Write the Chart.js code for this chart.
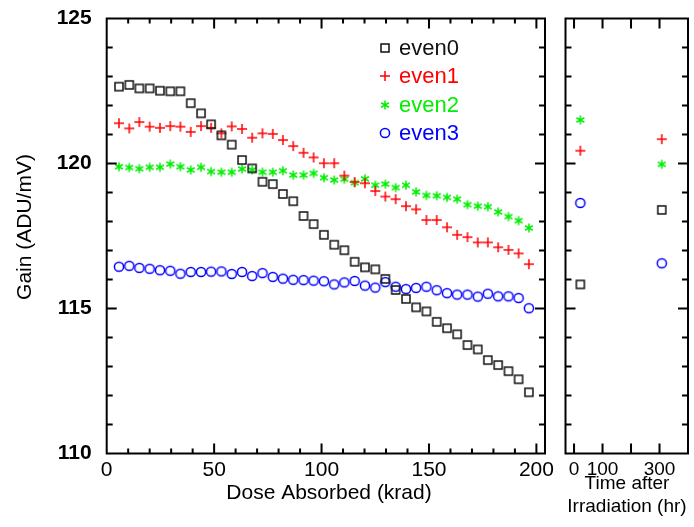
<!DOCTYPE html>
<html>
<head>
<meta charset="utf-8">
<title>Gain vs dose</title>
<script src="https://cdn.jsdelivr.net/npm/chart.js@4.4.0/dist/chart.umd.min.js"></script>
<style>
    html, body { margin: 0; padding: 0; background: #fff; }
    #wrap { position: relative; width: 694px; height: 527px; overflow: hidden; font-family: "Liberation Sans", Arial, sans-serif; }
    #doseChart { position: absolute; left: 0; top: 0; }
    #timeChart { position: absolute; left: 555px; top: 0; }
    #legend { position: absolute; left: 377px; top: 34px; }
    .legend-row { display: flex; align-items: center; height: 28.3px; font-size: 22px; line-height: 28.3px; }
    .legend-row canvas { margin-right: 6px; }
</style>
</head>
<body>
<div id="wrap">
    <canvas id="doseChart" width="560" height="527"></canvas>
    <canvas id="timeChart" width="139" height="527"></canvas>
    <div id="legend"></div>
</div>
<script>
// Gain per channel while irradiated (krad) and afterwards (hours)
const dose = [5.7, 10.5, 15.2, 20.0, 24.8, 29.6, 34.3, 39.1, 43.9, 48.6,
    53.4, 58.2, 63.0, 67.7, 72.5, 77.3, 82.0, 86.8, 91.6, 96.3,
    101.1, 105.9, 110.6, 115.4, 120.2, 125.0, 129.7, 134.5, 139.3, 144.0,
    148.8, 153.6, 158.4, 163.1, 167.9, 172.7, 177.4, 182.2, 187.0, 191.7, 196.5];

const even0 = [122.65, 122.71, 122.59, 122.59, 122.51, 122.49, 122.49, 122.08, 121.73, 121.35,
    120.97, 120.65, 120.12, 119.83, 119.37, 119.29, 118.95, 118.70, 118.19, 117.91,
    117.54, 117.20, 117.01, 116.61, 116.42, 116.35, 116.02, 115.64, 115.33, 115.04,
    114.90, 114.54, 114.32, 114.11, 113.74, 113.59, 113.22, 113.05, 112.84, 112.56, 112.11];
const even1 = [121.39, 121.21, 121.43, 121.27, 121.23, 121.29, 121.27, 121.09, 121.29, 121.23,
    121.04, 121.28, 121.19, 120.89, 121.04, 121.02, 120.81, 120.60, 120.37, 120.21,
    120.01, 120.01, 119.58, 119.36, 119.32, 119.05, 118.86, 118.77, 118.53, 118.42,
    118.05, 118.05, 117.80, 117.54, 117.46, 117.28, 117.28, 117.11, 117.02, 116.90, 116.53];
const even2 = [119.89, 119.86, 119.82, 119.87, 119.87, 119.98, 119.89, 119.78, 119.87, 119.72,
    119.70, 119.70, 119.81, 119.78, 119.70, 119.70, 119.75, 119.60, 119.60, 119.66,
    119.51, 119.43, 119.46, 119.34, 119.47, 119.25, 119.29, 119.17, 119.25, 119.02,
    118.90, 118.89, 118.83, 118.77, 118.58, 118.53, 118.51, 118.33, 118.17, 118.03, 117.78];
const even3 = [116.44, 116.47, 116.40, 116.37, 116.32, 116.30, 116.20, 116.26, 116.26, 116.27,
    116.28, 116.19, 116.26, 116.12, 116.22, 116.09, 116.03, 115.99, 115.98, 115.96,
    115.94, 115.83, 115.90, 115.95, 115.79, 115.72, 115.91, 115.75, 115.67, 115.71,
    115.75, 115.63, 115.53, 115.48, 115.48, 115.41, 115.51, 115.42, 115.42, 115.36, 115.01];

const hours = [22, 308];
const after0 = [115.83, 118.40];
const after1 = [120.44, 120.84];
const after2 = [121.50, 119.97];
const after3 = [118.64, 116.56];

const names = ['even0', 'even1', 'even2', 'even3'];
const colors = ['#111111', '#ff0000', '#00ee00', '#0000ff'];
const shapes = ['square', 'plus', 'star', 'circle'];
const yTicks = [110, 115, 120, 125];
const doseTicks = [0, 50, 100, 150, 200];
const hourTicks = [0, 100, 300];

Chart.defaults.font.family = '"Liberation Sans", Arial, sans-serif';
Chart.defaults.color = '#000';

// small marker images used both as point styles and in the legend
function markerCanvas(kind, color) {
    const c = document.createElement('canvas');
    c.width = 14;
    c.height = 14;
    const g = c.getContext('2d');
    g.strokeStyle = color;
    g.lineWidth = 1.5;
    g.translate(7, 7);
    g.beginPath();
    if (kind === 'square') {
        g.rect(-4, -4, 8, 8);
    } else if (kind === 'plus') {
        g.moveTo(-5, 0); g.lineTo(5, 0);
        g.moveTo(0, -5); g.lineTo(0, 5);
    } else if (kind === 'star') {
        [90, 30, 150].forEach(deg => {
            const a = deg * Math.PI / 180;
            g.moveTo(-4.5 * Math.cos(a), -4.5 * Math.sin(a));
            g.lineTo(4.5 * Math.cos(a), 4.5 * Math.sin(a));
        });
    } else {
        g.arc(0, 0, 4.6, 0, Math.PI * 2);
    }
    g.stroke();
    return c;
}

function toPoints(xs, ys) {
    return xs.map((x, i) => ({ x: x, y: ys[i] }));
}

function makeDatasets(xs, series) {
    return series.map((ys, i) => ({
        label: names[i],
        data: toPoints(xs, ys),
        pointStyle: markerCanvas(shapes[i], colors[i]),
        pointRadius: 5,
        showLine: false
    }));
}

// keep the plot box where the layout padding puts it, labels may overhang
function fixBox(size, isX) {
    return s => {
        if (isX) s.height = size; else s.width = size;
        s.paddingTop = 0;
        s.paddingBottom = 0;
        s.paddingLeft = 0;
        s.paddingRight = 0;
    };
}

// box around the plot area, inward ticks on all four sides, axis titles
const framePlugin = {
    id: 'frame',
    afterDraw(chart, args, opts) {
        const { ctx, chartArea: a } = chart;
        const x = chart.scales.x, y = chart.scales.y;
        ctx.save();
        ctx.strokeStyle = '#000';
        ctx.lineWidth = 2;
        ctx.strokeRect(a.left, a.top, a.right - a.left, a.bottom - a.top);

        ctx.beginPath();
        for (let v = opts.xStart; v < x.max; v += opts.xStep) {
            if (v <= x.min) continue;
            const px = x.getPixelForValue(v);
            const len = v % opts.xMajor === 0 ? 10 : 5;
            ctx.moveTo(px, a.bottom); ctx.lineTo(px, a.bottom - len);
            ctx.moveTo(px, a.top); ctx.lineTo(px, a.top + len);
        }
        for (let v = y.min + 1; v < y.max; v += 1) {
            const py = y.getPixelForValue(v);
            const len = v % 5 === 0 ? 10 : 6;
            ctx.moveTo(a.left, py); ctx.lineTo(a.left + len, py);
            ctx.moveTo(a.right, py); ctx.lineTo(a.right - len, py);
        }
        ctx.stroke();

        ctx.fillStyle = '#000';
        ctx.textAlign = 'center';
        ctx.textBaseline = 'alphabetic';
        opts.titles.forEach(t => {
            ctx.save();
            ctx.font = t.size + 'px "Liberation Sans", Arial, sans-serif';
            ctx.translate(t.x, t.y);
            if (t.rotate) ctx.rotate(-Math.PI / 2);
            ctx.fillText(t.text, 0, 0);
            ctx.restore();
        });
        ctx.restore();
    }
};

const doseChart = new Chart(document.getElementById('doseChart'), {
    type: 'scatter',
    data: { datasets: makeDatasets(dose, [even0, even1, even2, even3]) },
    options: {
        responsive: false,
        animation: false,
        devicePixelRatio: 1,
        layout: { padding: { top: 18.5, right: 15, left: 0, bottom: 0 } },
        plugins: {
            legend: { display: false },
            tooltip: { enabled: false },
            frame: {
                xStart: 0, xStep: 10, xMajor: 50,
                titles: [
                    { text: 'Dose Absorbed (krad)', x: 329, y: 499, size: 21 },
                    { text: 'Gain (ADU/mV)', x: 31, y: 227, size: 21, rotate: true }
                ]
            }
        },
        scales: {
            x: {
                type: 'linear',
                min: 0,
                max: 204,
                afterFit: fixBox(73.5, true),
                grid: { display: false, drawTicks: false },
                border: { display: false },
                ticks: {
                    stepSize: 50,
                    includeBounds: false,
                    autoSkip: false,
                    maxRotation: 0,
                    padding: 4,
                    font: { size: 21 },
                    callback: v => doseTicks.includes(v) ? v : ''
                }
            },
            y: {
                min: 110,
                max: 125,
                afterFit: fixBox(106.7, false),
                grid: { display: false, drawTicks: false },
                border: { display: false },
                ticks: {
                    stepSize: 5,
                    autoSkip: false,
                    padding: 15,
                    font: { size: 21, weight: 'bold' },
                    callback: v => yTicks.includes(v) ? v : ''
                }
            }
        }
    },
    plugins: [framePlugin]
});

const timeChart = new Chart(document.getElementById('timeChart'), {
    type: 'scatter',
    data: { datasets: makeDatasets(hours, [after0, after1, after2, after3]) },
    options: {
        responsive: false,
        animation: false,
        devicePixelRatio: 1,
        layout: { padding: { top: 18.5, right: 1, left: 10.5, bottom: 0 } },
        plugins: {
            legend: { display: false },
            tooltip: { enabled: false },
            frame: {
                xStart: 0, xStep: 100, xMajor: 100,
                titles: [
                    { text: 'Time after', x: 72, y: 489, size: 19 },
                    { text: 'Irradiation (hr)', x: 72, y: 512, size: 19 }
                ]
            }
        },
        scales: {
            x: {
                type: 'linear',
                min: -30,
                max: 400,
                afterFit: fixBox(73.5, true),
                grid: { display: false, drawTicks: false },
                border: { display: false },
                ticks: {
                    stepSize: 100,
                    includeBounds: false,
                    autoSkip: false,
                    maxRotation: 0,
                    padding: 5,
                    font: { size: 19 },
                    callback: v => hourTicks.includes(v) ? v : ''
                }
            },
            y: { display: false, min: 110, max: 125 }
        }
    },
    plugins: [framePlugin]
});

// legend inside the dose panel
const legend = document.getElementById('legend');
names.forEach((name, i) => {
    const row = document.createElement('div');
    row.className = 'legend-row';
    row.style.color = colors[i];
    const icon = document.createElement('canvas');
    icon.width = 16;
    icon.height = 16;
    icon.getContext('2d').drawImage(markerCanvas(shapes[i], colors[i]), 1, 1);
    row.appendChild(icon);
    const label = document.createElement('span');
    label.textContent = name;
    row.appendChild(label);
    legend.appendChild(row);
});
</script>
</body>
</html>
